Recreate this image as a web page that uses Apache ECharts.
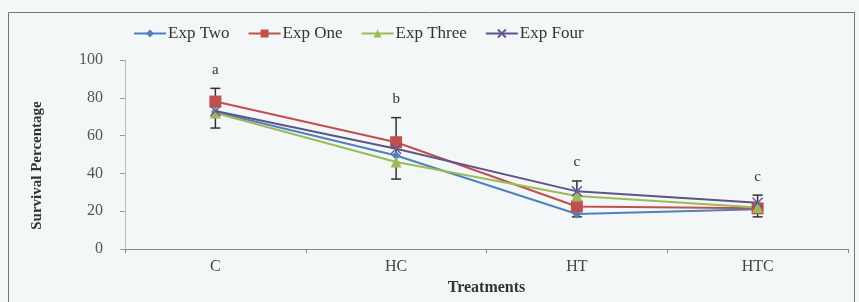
<!DOCTYPE html>
<html>
<head>
<meta charset="utf-8">
<script src="https://cdn.jsdelivr.net/npm/echarts@6/dist/echarts.min.js"></script>
<style>
  html, body { margin: 0; padding: 0; background: #f4f7f7; }
  #chart { width: 859px; height: 302px; }
</style>
</head>
<body>
<div id="chart"></div>
<script>
// treatments on x axis
const categories = ['C', 'HC', 'HT', 'HTC'];
const yTicks = [0, 20, 40, 60, 80, 100];

// survival percentage
const expTwo = [72.5, 49.5, 18.5, 21];
const expOne = [78, 56.5, 22.5, 21.5];
const expThree = [72, 46, 28, 22];
const expFour = [73, 53, 30.5, 24.5];

// error bar ends and significance letters
const errLow = [64, 37, 17, 17];
const errHigh = [85, 69.5, 36, 28.5];
const letters = ['a', 'b', 'c', 'c'];

const serif = '"Liberation Serif", "DejaVu Serif", serif';
const chart = echarts.init(document.getElementById('chart'));

const lineSeries = (name, data, color, symbol, size) => ({
  name: name,
  type: 'line',
  data: data,
  symbol: symbol,
  symbolSize: size,
  itemStyle: { color: color },
  lineStyle: { color: color, width: 2 },
  z: 3
});

chart.setOption({
  backgroundColor: '#f4f7f7',
  animation: false,
  graphic: [{
    type: 'rect',
    shape: { x: 8.5, y: 12.5, width: 846, height: 300 },
    style: { fill: 'none', stroke: '#777', lineWidth: 1 },
    silent: true
  }],
  legend: {
    top: 20,
    left: 128,
    itemGap: 18,
    itemWidth: 32,
    itemHeight: 10,
    textStyle: { fontFamily: serif, fontSize: 17, color: '#333', padding: [0, 0, 0, -3] },
    data: ['Exp Two', 'Exp One', 'Exp Three', 'Exp Four']
  },
  grid: { left: 125, right: 11, top: 60, bottom: 53, outerBoundsMode: 'none' },
  xAxis: {
    type: 'category',
    data: categories,
    boundaryGap: true,
    name: 'Treatments',
    nameLocation: 'middle',
    nameGap: 30,
    nameTextStyle: { fontFamily: serif, fontSize: 16, fontWeight: 'bold', color: '#333' },
    axisLine: { lineStyle: { color: '#888' } },
    axisTick: { show: true, alignWithLabel: false, length: 4, lineStyle: { color: '#888' } },
    axisLabel: { fontFamily: serif, fontSize: 16, color: '#444', margin: 10 }
  },
  yAxis: {
    type: 'value',
    min: yTicks[0],
    max: yTicks[yTicks.length - 1],
    interval: 20,
    name: 'Survival Percentage',
    nameLocation: 'middle',
    nameGap: 80,
    nameTextStyle: { fontFamily: serif, fontSize: 15, fontWeight: 'bold', color: '#333', padding: [0, 22, 0, 0] },
    axisLine: { show: true, lineStyle: { color: '#bbb' } },
    axisTick: { show: true, length: 5, lineStyle: { color: '#999' } },
    splitLine: { show: false },
    axisLabel: { fontFamily: serif, fontSize: 16, color: '#555', margin: 22 }
  },
  series: [
    lineSeries('Exp Two', expTwo, '#4f81bd', 'diamond', 9),
    lineSeries('Exp One', expOne, '#c0504d', 'rect', 12),
    lineSeries('Exp Three', expThree, '#9bbb59', 'triangle', 11),
    {
      name: 'Exp Four',
      type: 'line',
      data: expFour,
      symbol: 'path://M0,0 L10,10 M10,0 L0,10',
      symbolSize: 10,
      itemStyle: { color: 'none', borderColor: '#6a5a96', borderWidth: 1.5 },
      lineStyle: { color: '#5e5488', width: 2 },
      z: 4
    },
    {
      type: 'custom',
      data: categories.map((c, i) => [i, errLow[i], errHigh[i]]),
      z: 2,
      renderItem: (params, api) => {
        const x = api.coord([api.value(0), 0])[0];
        const lo = api.coord([api.value(0), api.value(1)])[1];
        const hi = api.coord([api.value(0), api.value(2)])[1];
        const w = 5;
        const st = { stroke: '#333', lineWidth: 1.5 };
        const i = params.dataIndex;
        return {
          type: 'group',
          children: [
            { type: 'line', shape: { x1: x, y1: lo, x2: x, y2: hi }, style: st },
            { type: 'line', shape: { x1: x - w, y1: lo, x2: x + w, y2: lo }, style: st },
            { type: 'line', shape: { x1: x - w, y1: hi, x2: x + w, y2: hi }, style: st },
            {
              type: 'text',
              x: x,
              y: hi - 11,
              style: {
                text: letters[i],
                fontFamily: serif,
                fontSize: 15,
                fill: '#333',
                align: 'center',
                verticalAlign: 'bottom'
              }
            }
          ]
        };
      }
    }
  ]
});
</script>
</body>
</html>
